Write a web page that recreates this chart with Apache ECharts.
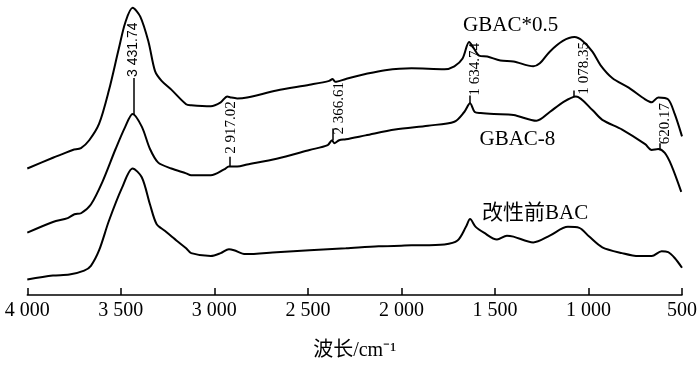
<!DOCTYPE html>
<html>
<head>
<meta charset="utf-8">
<script src="https://cdn.jsdelivr.net/npm/echarts@6/dist/echarts.min.js"></script>
<style>
  html, body { margin: 0; padding: 0; background: #fff; }
  #chartBox { width: 700px; height: 366px; }
</style>
</head>
<body>
<div id="chartBox"></div>
<script>
// spectra: [wavenumber cm-1, relative intensity]
const gbacHalf = [
  [4000, 130], [3863, 141], [3810, 145], [3757, 149], [3713, 151], [3669, 159],
  [3616, 176], [3564, 210], [3511, 253], [3476, 280], [3437, 295], [3396, 286],
  [3352, 260], [3317, 230], [3282, 220], [3230, 211], [3151, 196], [3124, 195],
  [3019, 194], [2966, 198], [2931, 204], [2913, 203], [2878, 202], [2825, 203],
  [2667, 210], [2491, 216], [2386, 220], [2368, 222], [2354, 219], [2297, 222],
  [2192, 227], [2087, 231], [1946, 233], [1770, 232], [1717, 235], [1673, 243],
  [1638, 260], [1612, 253], [1585, 246], [1541, 245], [1471, 241], [1401, 240],
  [1295, 235], [1260, 238], [1207, 250], [1137, 261], [1075, 265], [1031, 261],
  [979, 250], [935, 236], [873, 223], [785, 213], [697, 201], [662, 198],
  [627, 203], [574, 201], [539, 186], [500, 163]
];
const gbac8 = [
  [4000, 64], [3863, 75], [3784, 79], [3748, 83], [3713, 84], [3660, 93],
  [3599, 116], [3528, 150], [3476, 173], [3437, 186], [3388, 173], [3344, 150],
  [3300, 136], [3230, 130], [3151, 125], [3124, 123], [3019, 123], [2948, 129],
  [2922, 132], [2878, 132], [2825, 134], [2667, 140], [2491, 149], [2394, 154],
  [2371, 159], [2359, 156], [2333, 159], [2297, 160], [2192, 164], [2034, 170],
  [1858, 174], [1717, 178], [1664, 188], [1633, 197], [1608, 188], [1576, 187],
  [1506, 186], [1401, 185], [1278, 179], [1207, 188], [1137, 198], [1067, 204],
  [979, 190], [926, 180], [820, 170], [697, 155], [662, 149], [627, 150],
  [592, 146], [556, 133], [504, 106]
];
const bacRaw = [
  [4000, 16], [3863, 20], [3775, 21], [3696, 25], [3660, 30], [3616, 46],
  [3564, 76], [3494, 110], [3437, 130], [3388, 121], [3344, 93], [3309, 73],
  [3265, 66], [3203, 56], [3151, 48], [3124, 43], [3019, 40], [2966, 43],
  [2922, 47], [2895, 46], [2834, 42], [2667, 44], [2491, 46], [2297, 48],
  [2122, 50], [1946, 51], [1770, 52], [1700, 56], [1655, 70], [1633, 78],
  [1603, 70], [1559, 64], [1489, 57], [1436, 61], [1401, 60], [1295, 54],
  [1207, 61], [1110, 70], [1049, 69], [996, 60], [926, 49], [820, 43],
  [732, 40], [662, 40], [609, 45], [574, 44], [539, 38], [500, 28]
];

const seriesNames = ["GBAC*0.5", "GBAC-8", "改性前BAC"];
const xTicks = [500, 1000, 1500, 2000, 2500, 3000, 3500, 4000];
const peakWn = [3431.74, 2917.02, 2366.61, 1634.74, 1078.35, 620.17];
const peakText = ["3 431.74", "2 917.02", "2 366.61", "1 634.74", "1 078.35", "620.17"];

// where each peak label sits: leader [from, to] on the GBAC-8 trace, text anchor [wn, y]
const peakLayout = [
  { lead: [186, 223], at: [3431.74, 224], font: "Liberation Sans", size: 14 },
  { lead: [132, 142], at: [2909, 145], font: "Liberation Serif", size: 15 },
  { lead: [159, 171], at: [2333, 165], font: "Liberation Serif", size: 15 },
  { lead: [197, 205], at: [1608, 205], font: "Liberation Serif", size: 15 },
  { lead: [204, 210], at: [1021, 206], font: "Liberation Serif", size: 15 },
  { lead: [150, 156], at: [588, 155], font: "Liberation Serif", size: 15 }
];
const nameAt = [[1416, 277], [1380, 160], [1285, 84]];

function fmtThousands(v) {
  let s = String(v);
  return s.length > 3 ? s.slice(0, s.length - 3) + " " + s.slice(-3) : s;
}

let chart = echarts.init(document.getElementById("chartBox"));

let lineStyle = { color: "#000", width: 2 };

function nameMark(i) {
  return {
    symbolSize: 0,
    silent: true,
    animation: false,
    label: {
      show: true,
      position: "inside",
      color: "#000",
      fontFamily: "Liberation Serif, Noto Sans CJK SC",
      fontSize: 21,
      formatter: seriesNames[i]
    },
    data: [{ coord: nameAt[i] }]
  };
}

let peakPoints = peakWn.map((wn, i) => ({
  coord: peakLayout[i].at,
  label: {
    show: true,
    position: [0, 0],
    align: "left",
    verticalAlign: "middle",
    rotate: 90,
    color: "#000",
    fontFamily: peakLayout[i].font,
    fontSize: peakLayout[i].size,
    formatter: peakText[i]
  }
}));

let peakLeaders = peakWn.map((wn, i) => [
  { coord: [wn, peakLayout[i].lead[0]] },
  { coord: [wn, peakLayout[i].lead[1]] }
]);

let option = {
  backgroundColor: "#fff",
  animation: false,
  grid: { left: 27.3, right: 9.3, top: 3, bottom: 63 },
  xAxis: {
    type: "value",
    inverse: true,
    min: 500,
    max: 4000,
    interval: 500,
    name: "波长/cm⁻¹",
    nameLocation: "middle",
    nameGap: 46,
    nameTextStyle: {
      color: "#000",
      fontSize: 20,
      fontFamily: "Liberation Serif, Noto Sans CJK SC"
    },
    axisLine: { lineStyle: { color: "#000", width: 1.5 } },
    axisTick: { inside: true, length: 7, lineStyle: { color: "#000", width: 1.5 } },
    axisLabel: {
      color: "#000",
      fontSize: 20,
      fontFamily: "Liberation Serif",
      margin: 6,
      formatter: fmtThousands
    },
    splitLine: { show: false }
  },
  yAxis: {
    type: "value",
    min: 0,
    max: 300,
    show: false
  },
  series: [
    {
      name: seriesNames[0],
      type: "line",
      data: gbacHalf,
      showSymbol: false,
      smooth: 0.3,
      lineStyle: lineStyle,
      markPoint: nameMark(0)
    },
    {
      name: seriesNames[1],
      type: "line",
      data: gbac8,
      showSymbol: false,
      smooth: 0.3,
      lineStyle: lineStyle,
      markPoint: nameMark(1),
      markLine: {
        silent: true,
        symbol: "none",
        animation: false,
        label: { show: false },
        lineStyle: { color: "#000", width: 1.5, type: "solid" },
        data: peakLeaders
      }
    },
    {
      name: seriesNames[2],
      type: "line",
      data: bacRaw,
      showSymbol: false,
      smooth: 0.3,
      lineStyle: lineStyle,
      markPoint: nameMark(2)
    },
    {
      // carrier for the rotated peak labels
      type: "line",
      data: [],
      markPoint: {
        symbolSize: 0,
        silent: true,
        animation: false,
        data: peakPoints
      }
    }
  ]
};

chart.setOption(option);
</script>
</body>
</html>
